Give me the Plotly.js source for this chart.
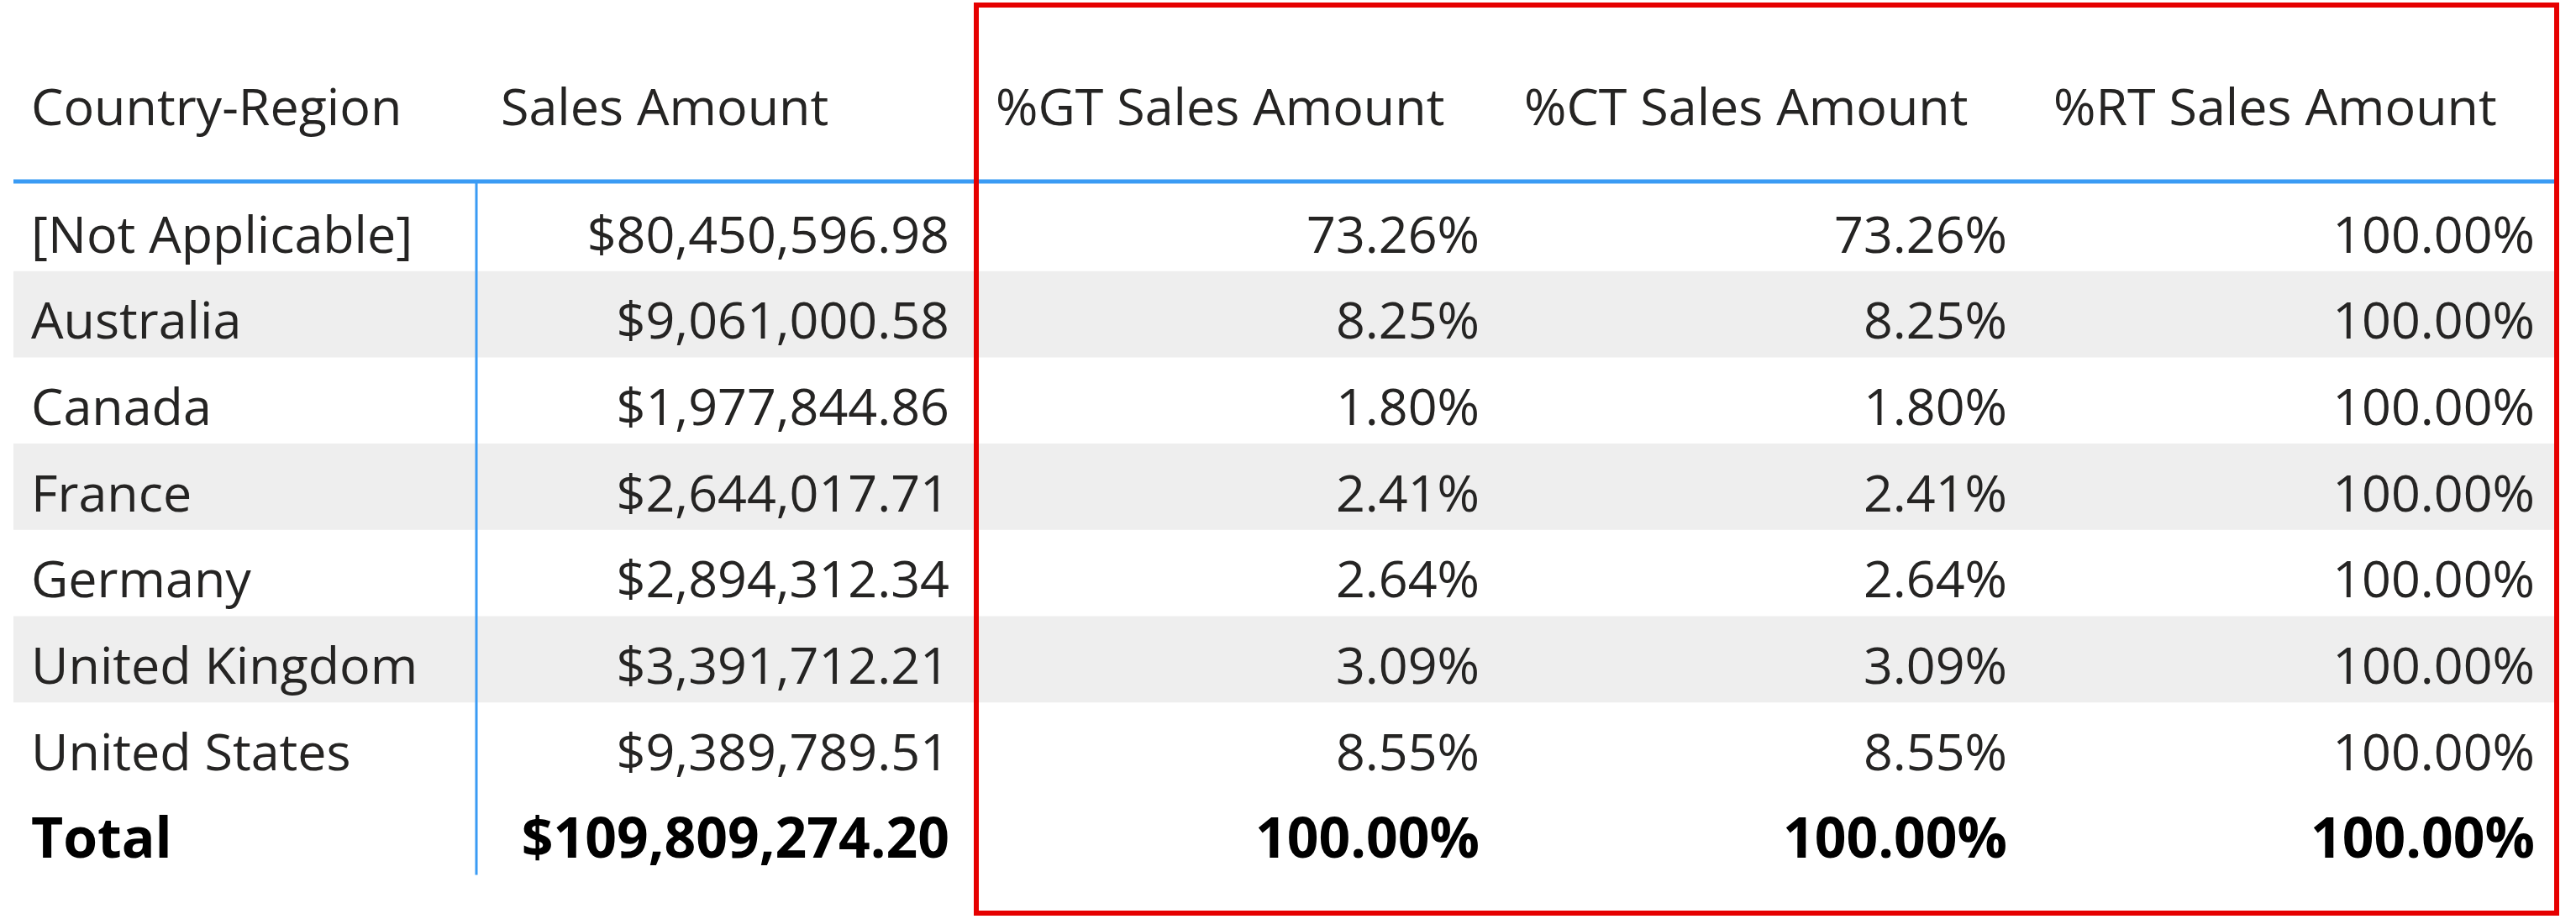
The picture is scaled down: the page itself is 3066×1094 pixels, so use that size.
<!DOCTYPE html>
<html>
<head>
<meta charset="utf-8">
<script src="https://cdn.plot.ly/plotly-3.0.1.min.js"></script>
<style>html,body{margin:0;padding:0;background:#fff}#graph{width:3066px;height:1094px}</style>
</head>
<body>
<div id="graph"></div>
<script>
var headers = ['Country-Region', 'Sales Amount', '%GT Sales Amount', '%CT Sales Amount', '%RT Sales Amount'];
var countries = ['[Not Applicable]', 'Australia', 'Canada', 'France', 'Germany', 'United Kingdom', 'United States'];
var sales = ['$80,450,596.98', '$9,061,000.58', '$1,977,844.86', '$2,644,017.71', '$2,894,312.34', '$3,391,712.21', '$9,389,789.51'];
var pctGT = ['73.26%', '8.25%', '1.80%', '2.41%', '2.64%', '3.09%', '8.55%'];
var pctCT = ['73.26%', '8.25%', '1.80%', '2.41%', '2.64%', '3.09%', '8.55%'];
var pctRT = ['100.00%', '100.00%', '100.00%', '100.00%', '100.00%', '100.00%', '100.00%'];
var totalRow = ['Total', '$109,809,274.20', '100.00%', '100.00%', '100.00%'];

// layout in pixels (axes are set 1:1 with the page)
var rowTop = 220, rowH = 102.7, headerY = 134, textDrop = 14;
var colX = [37, 1130, 1761, 2389, 3017];
var headX = [37, 596, 1185, 1814, 2444];
var textColor = '#252423';
var fontFam = '"Segoe UI", "Open Sans", sans-serif';
var fs = 61;

function rowMid(i) { return rowTop + rowH * i + rowH / 2 + textDrop; }

var traces = [];

// header
traces.push({
    x: headX, y: headers.map(function () { return headerY; }),
    text: headers, mode: 'text', type: 'scatter',
    textposition: 'middle right',
    textfont: {family: fontFam, size: fs, color: textColor},
    hoverinfo: 'skip'
});

var cols = [countries, sales, pctGT, pctCT, pctRT];
cols.forEach(function (vals, c) {
    traces.push({
        x: vals.map(function () { return colX[c]; }),
        y: vals.map(function (v, i) { return rowMid(i); }),
        text: vals, mode: 'text', type: 'scatter',
        textposition: c === 0 ? 'middle right' : 'middle left',
        textfont: {family: fontFam, size: fs, color: textColor},
        hoverinfo: 'skip'
    });
});

// total row
traces.push({
    x: colX, y: totalRow.map(function () { return rowMid(countries.length); }),
    text: totalRow.map(function (t) { return '<b>' + t + '</b>'; }),
    mode: 'text', type: 'scatter',
    textposition: totalRow.map(function (t, c) { return c === 0 ? 'middle right' : 'middle left'; }),
    textfont: {family: fontFam, size: 66, color: '#000'},
    hoverinfo: 'skip'
});

var shapes = [];
countries.forEach(function (c, i) {
    if (i % 2 === 1) {
        shapes.push({type: 'rect', xref: 'x', yref: 'y', layer: 'below',
            x0: 16, x1: 3040, y0: rowTop + rowH * i, y1: rowTop + rowH * (i + 1),
            fillcolor: '#eeeeee', line: {width: 0}});
    }
});
shapes.push({type: 'line', xref: 'x', yref: 'y', x0: 16, x1: 3040, y0: 216, y1: 216,
    line: {color: '#3a9bf4', width: 5}});
shapes.push({type: 'line', xref: 'x', yref: 'y', x0: 567, x1: 567, y0: 218, y1: rowTop + rowH * 8,
    line: {color: '#3a9bf4', width: 3}});
shapes.push({type: 'rect', xref: 'x', yref: 'y', x0: 1162, x1: 3043, y0: 6, y1: 1087,
    line: {color: '#e60000', width: 6}, fillcolor: 'rgba(0,0,0,0)'});

var layout = {
    width: 3066, height: 1094,
    margin: {l: 0, r: 0, t: 0, b: 0},
    paper_bgcolor: '#fff', plot_bgcolor: '#fff',
    showlegend: false,
    xaxis: {range: [0, 3066], visible: false, fixedrange: true},
    yaxis: {range: [1094, 0], visible: false, fixedrange: true},
    shapes: shapes
};

Plotly.newPlot('graph', traces, layout, {displayModeBar: false, staticPlot: true});
</script>
</body>
</html>
